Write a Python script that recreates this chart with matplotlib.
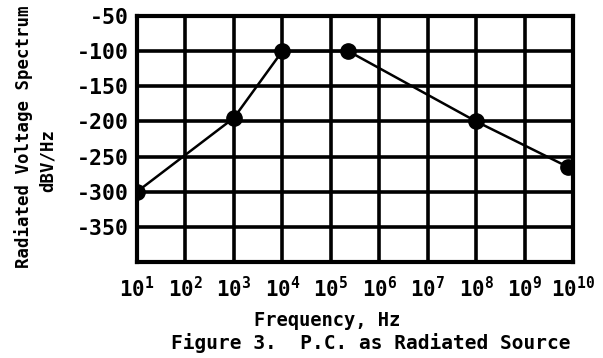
import matplotlib.pyplot as plt
import numpy as np

# radiated spectrum of the P.C. source
freq_hz = [1e1, 1e3, 1e4, 2.3e5, 1e8, 8e9]
level_dbv = [-300, -195, -100, -100, -200, -265]

x_ticks = [10.0 ** k for k in range(1, 11)]
x_tick_labels = [r"$\mathregular{10^{%d}}$" % k for k in range(1, 11)]
y_ticks = [-350, -300, -250, -200, -150, -100, -50]
y_tick_labels = ["-350", "-300", "-250", "-200", "-150", "-100", "-50"]

mono = "DejaVu Sans Mono"

fig = plt.figure(figsize=(6.03, 3.58), dpi=100)
ax = fig.add_axes([137 / 603, 1 - 262 / 358, 436 / 603, 246 / 358])

ax.plot(freq_hz, level_dbv, color="black", lw=1.8,
        marker="o", ms=11, mfc="black", mec="black", zorder=3)

ax.set_xscale("log")
ax.set_xlim(1e1, 1e10)
ax.set_ylim(-400, -50)
ax.minorticks_off()

ax.set_xticks(x_ticks)
ax.set_xticklabels(x_tick_labels, fontfamily=mono, fontweight="bold", fontsize=15)
ax.set_yticks(y_ticks)
ax.set_yticklabels(y_tick_labels, fontfamily=mono, fontweight="bold", fontsize=15.5)
ax.tick_params(axis="both", length=0)
ax.tick_params(axis="y", pad=6)
ax.tick_params(axis="x", pad=10)

ax.grid(True, color="black", lw=2.6)
ax.set_axisbelow(True)
for sp in ax.spines.values():
    sp.set_linewidth(3)

fig.text(24 / 603, 1 - 137 / 358, "Radiated Voltage Spectrum", rotation=90,
         ha="center", va="center", fontfamily=mono, fontweight="bold", fontsize=12.5)
fig.text(48 / 603, 1 - 160 / 358, "dBV/Hz", rotation=90,
         ha="center", va="center", fontfamily=mono, fontweight="bold", fontsize=12.5)
fig.text(327 / 603, 1 - 320 / 358, "Frequency, Hz",
         ha="center", va="center", fontfamily=mono, fontweight="bold", fontsize=13.5)
fig.text(371 / 603, 1 - 349 / 358, "Figure 3.  P.C. as Radiated Source",
         ha="center", va="baseline", fontfamily=mono, fontweight="bold", fontsize=14)

fig.savefig("out.png", dpi=100)
